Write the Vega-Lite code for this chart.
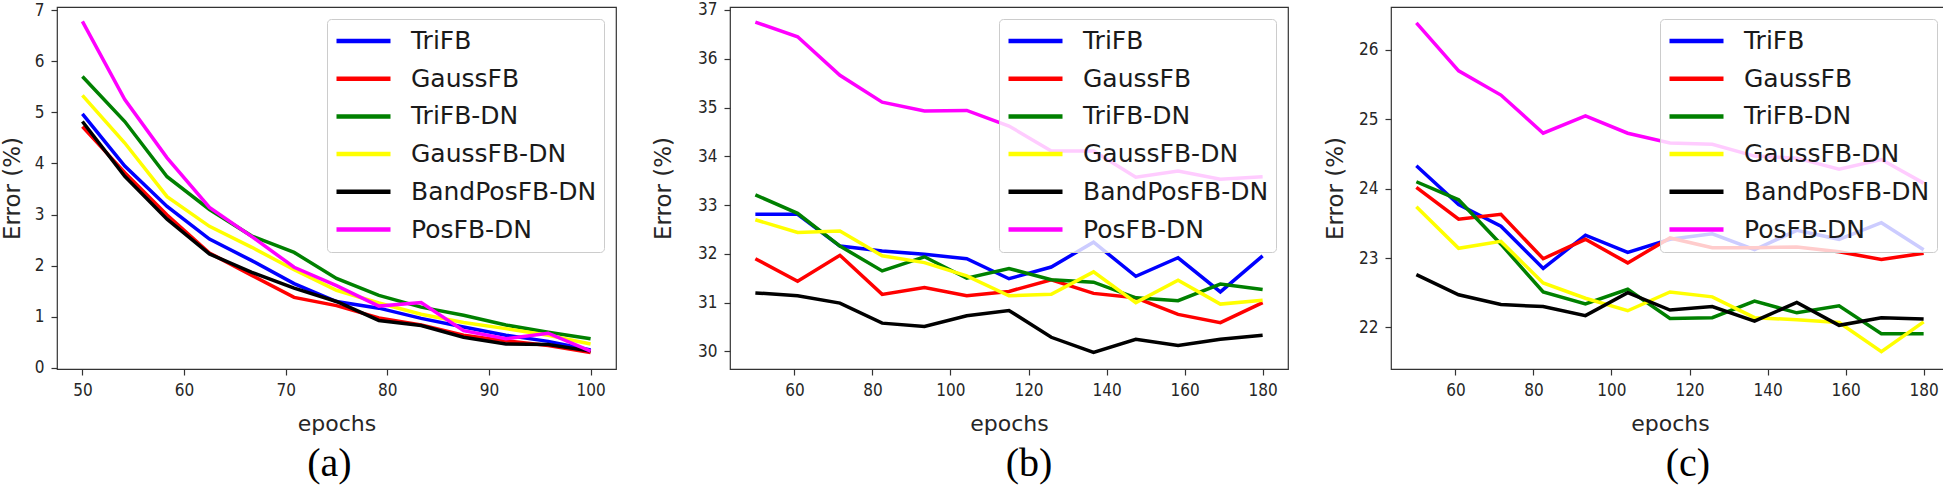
{
  "$schema": "https://vega.github.io/schema/vega-lite/v6.json",
  "padding": {"left": 0, "top": 0, "right": 0, "bottom": 0},
  "background": "white",
  "spacing": 34,
  "datasets": {
    "errs": [
      {"panel":"a","series":"TriFB","epoch":50,"error":4.97},{"panel":"a","series":"TriFB","epoch":54.17,"error":3.95},{"panel":"a","series":"TriFB","epoch":58.33,"error":3.16},{"panel":"a","series":"TriFB","epoch":62.5,"error":2.52},{"panel":"a","series":"TriFB","epoch":66.67,"error":2.10},{"panel":"a","series":"TriFB","epoch":70.83,"error":1.65},{"panel":"a","series":"TriFB","epoch":75,"error":1.30},{"panel":"a","series":"TriFB","epoch":79.17,"error":1.17},{"panel":"a","series":"TriFB","epoch":83.33,"error":0.97},{"panel":"a","series":"TriFB","epoch":87.5,"error":0.80},{"panel":"a","series":"TriFB","epoch":91.67,"error":0.64},{"panel":"a","series":"TriFB","epoch":95.83,"error":0.52},{"panel":"a","series":"TriFB","epoch":100,"error":0.35},
      {"panel":"a","series":"GaussFB","epoch":50,"error":4.72},{"panel":"a","series":"GaussFB","epoch":54.17,"error":3.82},{"panel":"a","series":"GaussFB","epoch":58.33,"error":2.99},{"panel":"a","series":"GaussFB","epoch":62.5,"error":2.25},{"panel":"a","series":"GaussFB","epoch":66.67,"error":1.81},{"panel":"a","series":"GaussFB","epoch":70.83,"error":1.38},{"panel":"a","series":"GaussFB","epoch":75,"error":1.22},{"panel":"a","series":"GaussFB","epoch":79.17,"error":0.98},{"panel":"a","series":"GaussFB","epoch":83.33,"error":0.84},{"panel":"a","series":"GaussFB","epoch":87.5,"error":0.64},{"panel":"a","series":"GaussFB","epoch":91.67,"error":0.53},{"panel":"a","series":"GaussFB","epoch":95.83,"error":0.44},{"panel":"a","series":"GaussFB","epoch":100,"error":0.30},
      {"panel":"a","series":"TriFB-DN","epoch":50,"error":5.70},{"panel":"a","series":"TriFB-DN","epoch":54.17,"error":4.82},{"panel":"a","series":"TriFB-DN","epoch":58.33,"error":3.74},{"panel":"a","series":"TriFB-DN","epoch":62.5,"error":3.10},{"panel":"a","series":"TriFB-DN","epoch":66.67,"error":2.58},{"panel":"a","series":"TriFB-DN","epoch":70.83,"error":2.26},{"panel":"a","series":"TriFB-DN","epoch":75,"error":1.75},{"panel":"a","series":"TriFB-DN","epoch":79.17,"error":1.42},{"panel":"a","series":"TriFB-DN","epoch":83.33,"error":1.19},{"panel":"a","series":"TriFB-DN","epoch":87.5,"error":1.03},{"panel":"a","series":"TriFB-DN","epoch":91.67,"error":0.84},{"panel":"a","series":"TriFB-DN","epoch":95.83,"error":0.70},{"panel":"a","series":"TriFB-DN","epoch":100,"error":0.57},
      {"panel":"a","series":"GaussFB-DN","epoch":50,"error":5.33},{"panel":"a","series":"GaussFB-DN","epoch":54.17,"error":4.40},{"panel":"a","series":"GaussFB-DN","epoch":58.33,"error":3.35},{"panel":"a","series":"GaussFB-DN","epoch":62.5,"error":2.77},{"panel":"a","series":"GaussFB-DN","epoch":66.67,"error":2.36},{"panel":"a","series":"GaussFB-DN","epoch":70.83,"error":1.92},{"panel":"a","series":"GaussFB-DN","epoch":75,"error":1.52},{"panel":"a","series":"GaussFB-DN","epoch":79.17,"error":1.27},{"panel":"a","series":"GaussFB-DN","epoch":83.33,"error":1.05},{"panel":"a","series":"GaussFB-DN","epoch":87.5,"error":0.89},{"panel":"a","series":"GaussFB-DN","epoch":91.67,"error":0.77},{"panel":"a","series":"GaussFB-DN","epoch":95.83,"error":0.64},{"panel":"a","series":"GaussFB-DN","epoch":100,"error":0.47},
      {"panel":"a","series":"BandPosFB-DN","epoch":50,"error":4.82},{"panel":"a","series":"BandPosFB-DN","epoch":54.17,"error":3.75},{"panel":"a","series":"BandPosFB-DN","epoch":58.33,"error":2.91},{"panel":"a","series":"BandPosFB-DN","epoch":62.5,"error":2.23},{"panel":"a","series":"BandPosFB-DN","epoch":66.67,"error":1.87},{"panel":"a","series":"BandPosFB-DN","epoch":70.83,"error":1.56},{"panel":"a","series":"BandPosFB-DN","epoch":75,"error":1.30},{"panel":"a","series":"BandPosFB-DN","epoch":79.17,"error":0.93},{"panel":"a","series":"BandPosFB-DN","epoch":83.33,"error":0.83},{"panel":"a","series":"BandPosFB-DN","epoch":87.5,"error":0.60},{"panel":"a","series":"BandPosFB-DN","epoch":91.67,"error":0.47},{"panel":"a","series":"BandPosFB-DN","epoch":95.83,"error":0.46},{"panel":"a","series":"BandPosFB-DN","epoch":100,"error":0.33},
      {"panel":"a","series":"PosFB-DN","epoch":50,"error":6.78},{"panel":"a","series":"PosFB-DN","epoch":54.17,"error":5.25},{"panel":"a","series":"PosFB-DN","epoch":58.33,"error":4.11},{"panel":"a","series":"PosFB-DN","epoch":62.5,"error":3.14},{"panel":"a","series":"PosFB-DN","epoch":66.67,"error":2.57},{"panel":"a","series":"PosFB-DN","epoch":70.83,"error":1.97},{"panel":"a","series":"PosFB-DN","epoch":75,"error":1.61},{"panel":"a","series":"PosFB-DN","epoch":79.17,"error":1.21},{"panel":"a","series":"PosFB-DN","epoch":83.33,"error":1.28},{"panel":"a","series":"PosFB-DN","epoch":87.5,"error":0.73},{"panel":"a","series":"PosFB-DN","epoch":91.67,"error":0.57},{"panel":"a","series":"PosFB-DN","epoch":95.83,"error":0.68},{"panel":"a","series":"PosFB-DN","epoch":100,"error":0.33},

      {"panel":"b","series":"TriFB","epoch":50,"error":32.81},{"panel":"b","series":"TriFB","epoch":60.83,"error":32.81},{"panel":"b","series":"TriFB","epoch":71.67,"error":32.16},{"panel":"b","series":"TriFB","epoch":82.5,"error":32.06},{"panel":"b","series":"TriFB","epoch":93.33,"error":31.99},{"panel":"b","series":"TriFB","epoch":104.17,"error":31.90},{"panel":"b","series":"TriFB","epoch":115,"error":31.49},{"panel":"b","series":"TriFB","epoch":125.83,"error":31.73},{"panel":"b","series":"TriFB","epoch":136.67,"error":32.24},{"panel":"b","series":"TriFB","epoch":147.5,"error":31.54},{"panel":"b","series":"TriFB","epoch":158.33,"error":31.92},{"panel":"b","series":"TriFB","epoch":169.17,"error":31.22},{"panel":"b","series":"TriFB","epoch":180,"error":31.96},
      {"panel":"b","series":"GaussFB","epoch":50,"error":31.90},{"panel":"b","series":"GaussFB","epoch":60.83,"error":31.44},{"panel":"b","series":"GaussFB","epoch":71.67,"error":31.97},{"panel":"b","series":"GaussFB","epoch":82.5,"error":31.17},{"panel":"b","series":"GaussFB","epoch":93.33,"error":31.31},{"panel":"b","series":"GaussFB","epoch":104.17,"error":31.14},{"panel":"b","series":"GaussFB","epoch":115,"error":31.23},{"panel":"b","series":"GaussFB","epoch":125.83,"error":31.47},{"panel":"b","series":"GaussFB","epoch":136.67,"error":31.19},{"panel":"b","series":"GaussFB","epoch":147.5,"error":31.10},{"panel":"b","series":"GaussFB","epoch":158.33,"error":30.76},{"panel":"b","series":"GaussFB","epoch":169.17,"error":30.59},{"panel":"b","series":"GaussFB","epoch":180,"error":31.00},
      {"panel":"b","series":"TriFB-DN","epoch":50,"error":33.21},{"panel":"b","series":"TriFB-DN","epoch":60.83,"error":32.83},{"panel":"b","series":"TriFB-DN","epoch":71.67,"error":32.16},{"panel":"b","series":"TriFB-DN","epoch":82.5,"error":31.65},{"panel":"b","series":"TriFB-DN","epoch":93.33,"error":31.94},{"panel":"b","series":"TriFB-DN","epoch":104.17,"error":31.50},{"panel":"b","series":"TriFB-DN","epoch":115,"error":31.70},{"panel":"b","series":"TriFB-DN","epoch":125.83,"error":31.47},{"panel":"b","series":"TriFB-DN","epoch":136.67,"error":31.42},{"panel":"b","series":"TriFB-DN","epoch":147.5,"error":31.10},{"panel":"b","series":"TriFB-DN","epoch":158.33,"error":31.04},{"panel":"b","series":"TriFB-DN","epoch":169.17,"error":31.38},{"panel":"b","series":"TriFB-DN","epoch":180,"error":31.27},
      {"panel":"b","series":"GaussFB-DN","epoch":50,"error":32.70},{"panel":"b","series":"GaussFB-DN","epoch":60.83,"error":32.44},{"panel":"b","series":"GaussFB-DN","epoch":71.67,"error":32.47},{"panel":"b","series":"GaussFB-DN","epoch":82.5,"error":31.96},{"panel":"b","series":"GaussFB-DN","epoch":93.33,"error":31.82},{"panel":"b","series":"GaussFB-DN","epoch":104.17,"error":31.55},{"panel":"b","series":"GaussFB-DN","epoch":115,"error":31.14},{"panel":"b","series":"GaussFB-DN","epoch":125.83,"error":31.17},{"panel":"b","series":"GaussFB-DN","epoch":136.67,"error":31.63},{"panel":"b","series":"GaussFB-DN","epoch":147.5,"error":31.00},{"panel":"b","series":"GaussFB-DN","epoch":158.33,"error":31.46},{"panel":"b","series":"GaussFB-DN","epoch":169.17,"error":30.97},{"panel":"b","series":"GaussFB-DN","epoch":180,"error":31.05},
      {"panel":"b","series":"BandPosFB-DN","epoch":50,"error":31.20},{"panel":"b","series":"BandPosFB-DN","epoch":60.83,"error":31.14},{"panel":"b","series":"BandPosFB-DN","epoch":71.67,"error":30.99},{"panel":"b","series":"BandPosFB-DN","epoch":82.5,"error":30.58},{"panel":"b","series":"BandPosFB-DN","epoch":93.33,"error":30.51},{"panel":"b","series":"BandPosFB-DN","epoch":104.17,"error":30.73},{"panel":"b","series":"BandPosFB-DN","epoch":115,"error":30.84},{"panel":"b","series":"BandPosFB-DN","epoch":125.83,"error":30.29},{"panel":"b","series":"BandPosFB-DN","epoch":136.67,"error":29.98},{"panel":"b","series":"BandPosFB-DN","epoch":147.5,"error":30.25},{"panel":"b","series":"BandPosFB-DN","epoch":158.33,"error":30.12},{"panel":"b","series":"BandPosFB-DN","epoch":169.17,"error":30.25},{"panel":"b","series":"BandPosFB-DN","epoch":180,"error":30.33},
      {"panel":"b","series":"PosFB-DN","epoch":50,"error":36.75},{"panel":"b","series":"PosFB-DN","epoch":60.83,"error":36.45},{"panel":"b","series":"PosFB-DN","epoch":71.67,"error":35.66},{"panel":"b","series":"PosFB-DN","epoch":82.5,"error":35.11},{"panel":"b","series":"PosFB-DN","epoch":93.33,"error":34.93},{"panel":"b","series":"PosFB-DN","epoch":104.17,"error":34.94},{"panel":"b","series":"PosFB-DN","epoch":115,"error":34.62},{"panel":"b","series":"PosFB-DN","epoch":125.83,"error":34.11},{"panel":"b","series":"PosFB-DN","epoch":136.67,"error":34.11},{"panel":"b","series":"PosFB-DN","epoch":147.5,"error":33.57},{"panel":"b","series":"PosFB-DN","epoch":158.33,"error":33.70},{"panel":"b","series":"PosFB-DN","epoch":169.17,"error":33.53},{"panel":"b","series":"PosFB-DN","epoch":180,"error":33.58},

      {"panel":"c","series":"TriFB","epoch":50,"error":24.33},{"panel":"c","series":"TriFB","epoch":60.83,"error":23.77},{"panel":"c","series":"TriFB","epoch":71.67,"error":23.46},{"panel":"c","series":"TriFB","epoch":82.5,"error":22.85},{"panel":"c","series":"TriFB","epoch":93.33,"error":23.33},{"panel":"c","series":"TriFB","epoch":104.17,"error":23.08},{"panel":"c","series":"TriFB","epoch":115,"error":23.27},{"panel":"c","series":"TriFB","epoch":125.83,"error":23.35},{"panel":"c","series":"TriFB","epoch":136.67,"error":23.12},{"panel":"c","series":"TriFB","epoch":147.5,"error":23.40},{"panel":"c","series":"TriFB","epoch":158.33,"error":23.27},{"panel":"c","series":"TriFB","epoch":169.17,"error":23.51},{"panel":"c","series":"TriFB","epoch":180,"error":23.12},
      {"panel":"c","series":"GaussFB","epoch":50,"error":24.02},{"panel":"c","series":"GaussFB","epoch":60.83,"error":23.56},{"panel":"c","series":"GaussFB","epoch":71.67,"error":23.63},{"panel":"c","series":"GaussFB","epoch":82.5,"error":22.99},{"panel":"c","series":"GaussFB","epoch":93.33,"error":23.27},{"panel":"c","series":"GaussFB","epoch":104.17,"error":22.93},{"panel":"c","series":"GaussFB","epoch":115,"error":23.29},{"panel":"c","series":"GaussFB","epoch":125.83,"error":23.15},{"panel":"c","series":"GaussFB","epoch":136.67,"error":23.15},{"panel":"c","series":"GaussFB","epoch":147.5,"error":23.16},{"panel":"c","series":"GaussFB","epoch":158.33,"error":23.09},{"panel":"c","series":"GaussFB","epoch":169.17,"error":22.98},{"panel":"c","series":"GaussFB","epoch":180,"error":23.07},
      {"panel":"c","series":"TriFB-DN","epoch":50,"error":24.10},{"panel":"c","series":"TriFB-DN","epoch":60.83,"error":23.84},{"panel":"c","series":"TriFB-DN","epoch":71.67,"error":23.20},{"panel":"c","series":"TriFB-DN","epoch":82.5,"error":22.51},{"panel":"c","series":"TriFB-DN","epoch":93.33,"error":22.34},{"panel":"c","series":"TriFB-DN","epoch":104.17,"error":22.55},{"panel":"c","series":"TriFB-DN","epoch":115,"error":22.13},{"panel":"c","series":"TriFB-DN","epoch":125.83,"error":22.14},{"panel":"c","series":"TriFB-DN","epoch":136.67,"error":22.38},{"panel":"c","series":"TriFB-DN","epoch":147.5,"error":22.21},{"panel":"c","series":"TriFB-DN","epoch":158.33,"error":22.31},{"panel":"c","series":"TriFB-DN","epoch":169.17,"error":21.91},{"panel":"c","series":"TriFB-DN","epoch":180,"error":21.91},
      {"panel":"c","series":"GaussFB-DN","epoch":50,"error":23.74},{"panel":"c","series":"GaussFB-DN","epoch":60.83,"error":23.14},{"panel":"c","series":"GaussFB-DN","epoch":71.67,"error":23.24},{"panel":"c","series":"GaussFB-DN","epoch":82.5,"error":22.64},{"panel":"c","series":"GaussFB-DN","epoch":93.33,"error":22.42},{"panel":"c","series":"GaussFB-DN","epoch":104.17,"error":22.24},{"panel":"c","series":"GaussFB-DN","epoch":115,"error":22.51},{"panel":"c","series":"GaussFB-DN","epoch":125.83,"error":22.44},{"panel":"c","series":"GaussFB-DN","epoch":136.67,"error":22.14},{"panel":"c","series":"GaussFB-DN","epoch":147.5,"error":22.11},{"panel":"c","series":"GaussFB-DN","epoch":158.33,"error":22.07},{"panel":"c","series":"GaussFB-DN","epoch":169.17,"error":21.65},{"panel":"c","series":"GaussFB-DN","epoch":180,"error":22.08},
      {"panel":"c","series":"BandPosFB-DN","epoch":50,"error":22.76},{"panel":"c","series":"BandPosFB-DN","epoch":60.83,"error":22.47},{"panel":"c","series":"BandPosFB-DN","epoch":71.67,"error":22.33},{"panel":"c","series":"BandPosFB-DN","epoch":82.5,"error":22.30},{"panel":"c","series":"BandPosFB-DN","epoch":93.33,"error":22.17},{"panel":"c","series":"BandPosFB-DN","epoch":104.17,"error":22.50},{"panel":"c","series":"BandPosFB-DN","epoch":115,"error":22.25},{"panel":"c","series":"BandPosFB-DN","epoch":125.83,"error":22.30},{"panel":"c","series":"BandPosFB-DN","epoch":136.67,"error":22.09},{"panel":"c","series":"BandPosFB-DN","epoch":147.5,"error":22.36},{"panel":"c","series":"BandPosFB-DN","epoch":158.33,"error":22.03},{"panel":"c","series":"BandPosFB-DN","epoch":169.17,"error":22.14},{"panel":"c","series":"BandPosFB-DN","epoch":180,"error":22.12},
      {"panel":"c","series":"PosFB-DN","epoch":50,"error":26.39},{"panel":"c","series":"PosFB-DN","epoch":60.83,"error":25.70},{"panel":"c","series":"PosFB-DN","epoch":71.67,"error":25.35},{"panel":"c","series":"PosFB-DN","epoch":82.5,"error":24.80},{"panel":"c","series":"PosFB-DN","epoch":93.33,"error":25.05},{"panel":"c","series":"PosFB-DN","epoch":104.17,"error":24.80},{"panel":"c","series":"PosFB-DN","epoch":115,"error":24.66},{"panel":"c","series":"PosFB-DN","epoch":125.83,"error":24.64},{"panel":"c","series":"PosFB-DN","epoch":136.67,"error":24.47},{"panel":"c","series":"PosFB-DN","epoch":147.5,"error":24.44},{"panel":"c","series":"PosFB-DN","epoch":158.33,"error":24.28},{"panel":"c","series":"PosFB-DN","epoch":169.17,"error":24.42},{"panel":"c","series":"PosFB-DN","epoch":180,"error":24.08}
    ]
  },
  "data": {"name": "errs"},
  "resolve": {"scale": {"x": "independent", "y": "independent", "color": "independent"}, "legend": {"color": "independent"}},
  "hconcat": [
    {
      "width": 559, "height": 362,
      "transform": [{"filter": "datum.panel === 'a'"}],
      "mark": {"type": "line", "strokeWidth": 3.5, "clip": true},
      "encoding": {
        "x": {"field": "epoch", "type": "quantitative", "scale": {"domain": [47.5, 102.5], "nice": false, "zero": false}, "axis": {"values": [50, 60, 70, 80, 90, 100], "title": "epochs"}},
        "y": {"field": "error", "type": "quantitative", "scale": {"domain": [-0.02, 7.06], "nice": false, "zero": false}, "axis": {"values": [0, 1, 2, 3, 4, 5, 6, 7], "title": "Error (%)", "titlePadding": 10}},
        "color": {"field": "series", "type": "nominal", "scale": {"domain": ["TriFB", "GaussFB", "TriFB-DN", "GaussFB-DN", "BandPosFB-DN", "PosFB-DN"], "range": ["#0000ff", "#ff0000", "#008000", "#ffff00", "#000000", "#ff00ff"]}, "legend": {"title": null}}
      },
      "title": {"text": "(a)", "dx": -7}
    },
    {
      "width": 558, "height": 362,
      "transform": [{"filter": "datum.panel === 'b'"}],
      "mark": {"type": "line", "strokeWidth": 3.5, "clip": true},
      "encoding": {
        "x": {"field": "epoch", "type": "quantitative", "scale": {"domain": [43.5, 186.5], "nice": false, "zero": false}, "axis": {"values": [60, 80, 100, 120, 140, 160, 180], "title": "epochs"}},
        "y": {"field": "error", "type": "quantitative", "scale": {"domain": [29.64, 37.06], "nice": false, "zero": false}, "axis": {"values": [30, 31, 32, 33, 34, 35, 36, 37], "title": "Error (%)", "titlePadding": 22}},
        "color": {"field": "series", "type": "nominal", "scale": {"domain": ["TriFB", "GaussFB", "TriFB-DN", "GaussFB-DN", "BandPosFB-DN", "PosFB-DN"], "range": ["#0000ff", "#ff0000", "#008000", "#ffff00", "#000000", "#ff00ff"]}, "legend": {"title": null}}
      },
      "title": {"text": "(b)", "dx": 20}
    },
    {
      "width": 558, "height": 362,
      "transform": [{"filter": "datum.panel === 'c'"}],
      "mark": {"type": "line", "strokeWidth": 3.5, "clip": true},
      "encoding": {
        "x": {"field": "epoch", "type": "quantitative", "scale": {"domain": [43.5, 186.5], "nice": false, "zero": false}, "axis": {"values": [60, 80, 100, 120, 140, 160, 180], "title": "epochs"}},
        "y": {"field": "error", "type": "quantitative", "scale": {"domain": [21.4, 26.62], "nice": false, "zero": false}, "axis": {"values": [22, 23, 24, 25, 26], "title": "Error (%)", "titlePadding": 11}},
        "color": {"field": "series", "type": "nominal", "scale": {"domain": ["TriFB", "GaussFB", "TriFB-DN", "GaussFB-DN", "BandPosFB-DN", "PosFB-DN"], "range": ["#0000ff", "#ff0000", "#008000", "#ffff00", "#000000", "#ff00ff"]}, "legend": {"title": null}}
      },
      "title": {"text": "(c)", "dx": 18}
    }
  ],
  "config": {
    "view": {"stroke": "#333333", "strokeWidth": 1.2},
    "axis": {
      "grid": false, "domain": false,
      "tickColor": "#333333", "tickSize": 6, "tickWidth": 1.2,
      "labelFont": "'DejaVu Sans Condensed', 'Liberation Sans Narrow', 'DejaVu Sans'",
      "labelFontSize": 17, "labelColor": "#262626", "labelPadding": 7,
      "titleFont": "DejaVu Sans", "titleFontSize": 23, "titleFontWeight": "normal", "titleColor": "#262626"
    },
    "axisX": {"titlePadding": 15, "titleFontSize": 22},
    "legend": {
      "orient": "top-right", "offset": 12,
      "symbolType": "stroke", "symbolSize": 2916, "symbolStrokeWidth": 4.5,
      "labelFont": "DejaVu Sans", "labelFontSize": 25, "labelColor": "#1a1a1a", "labelOffset": 18, "labelLimit": 400,
      "clipHeight": 30, "rowPadding": 7.7, "padding": 7,
      "fillColor": "rgba(255,255,255,0.8)", "strokeColor": "#cccccc", "cornerRadius": 4
    },
    "title": {"orient": "bottom", "anchor": "middle", "frame": "group", "font": "Liberation Serif", "fontSize": 40, "fontWeight": "normal", "color": "#000000", "offset": 10}
  }
}
